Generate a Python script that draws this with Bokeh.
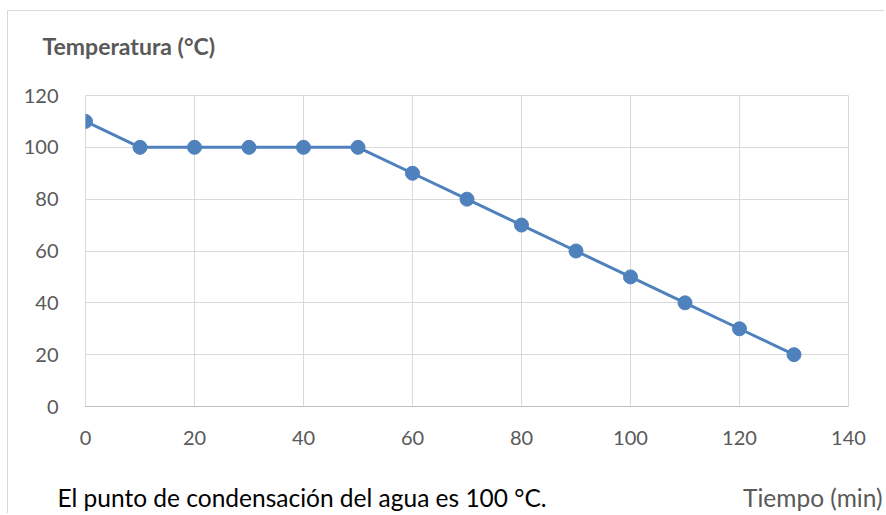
from bokeh.plotting import figure
from bokeh.models import Range1d, FixedTicker, Label
from bokeh.layouts import column
from bokeh.embed import file_html
from bokeh.resources import INLINE

tiempo = [0, 10, 20, 30, 40, 50, 60, 70, 80, 90, 100, 110, 120, 130]
temperatura = [110, 100, 100, 100, 100, 100, 90, 80, 70, 60, 50, 40, 30, 20]
x_ticks = [0, 20, 40, 60, 80, 100, 120, 140]
y_ticks = [0, 20, 40, 60, 80, 100, 120]
titulo = "Temperatura (°C)"
nota = "El punto de condensación del agua es 100 °C."
eje_x = "Tiempo (min)"

FONT = "Lato"
GREY = "#595959"
BLUE = "#4F81BD"
W = 876


def no_align(f):
    if "frame_align" in f.properties():
        f.frame_align = False
    return f


def text_strip(height):
    f = figure(width=W, height=height, output_backend="svg", toolbar_location=None,
               x_range=Range1d(0, 1), y_range=Range1d(0, 1),
               x_axis_location=None, y_axis_location=None, min_border=0)
    f.grid.visible = False
    f.outline_line_color = None
    return no_align(f)


# top strip with the y-axis title
p_top = text_strip(70)
p_top.add_layout(Label(x=34, y=36, x_units="screen", y_units="screen", text=titulo,
                       text_font=FONT, text_font_style="bold", text_font_size="23px",
                       text_color=GREY, text_baseline="middle"))

# main chart
p = figure(width=W, height=385, output_backend="svg", toolbar_location=None,
           x_range=Range1d(0, 140), y_range=Range1d(0, 120),
           min_border_left=77, min_border_top=14, min_border_right=36, min_border_bottom=60)
no_align(p)
p.outline_line_color = "#d9d9d9"
p.xaxis.ticker = FixedTicker(ticks=x_ticks)
p.yaxis.ticker = FixedTicker(ticks=y_ticks)
for ax in (p.xaxis[0], p.yaxis[0]):
    ax.major_tick_line_color = None
    ax.minor_tick_line_color = None
    ax.major_label_text_font = FONT
    ax.major_label_text_font_size = "20px"
    ax.major_label_text_color = GREY
p.xaxis.major_label_standoff = 18
p.yaxis.major_label_standoff = 21
p.xaxis.axis_line_color = "#bfbfbf"
p.yaxis.axis_line_color = None
p.xgrid.grid_line_color = "#d9d9d9"
p.ygrid.grid_line_color = "#d9d9d9"

p.line(tiempo, temperatura, line_color=BLUE, line_width=3)
p.scatter(tiempo, temperatura, size=14, fill_color=BLUE, line_color=BLUE)

# bottom strip with the note and the x-axis title
p_bot = text_strip(47)
p_bot.add_layout(Label(x=49, y=16, x_units="screen", y_units="screen", text=nota,
                       text_font=FONT, text_font_size="24.5px", text_color="#000000",
                       text_baseline="middle"))
p_bot.add_layout(Label(x=874, y=16, x_units="screen", y_units="screen", text=eje_x,
                       text_font=FONT, text_font_size="24.5px", text_color=GREY,
                       text_align="right", text_baseline="middle"))

layout = column(p_top, p, p_bot)
layout.styles = {"margin-left": "7px", "margin-top": "10px",
                 "border-left": "1px solid #d9d9d9", "border-top": "1px solid #d9d9d9"}

open("out.html", "w").write(file_html(layout, INLINE))
